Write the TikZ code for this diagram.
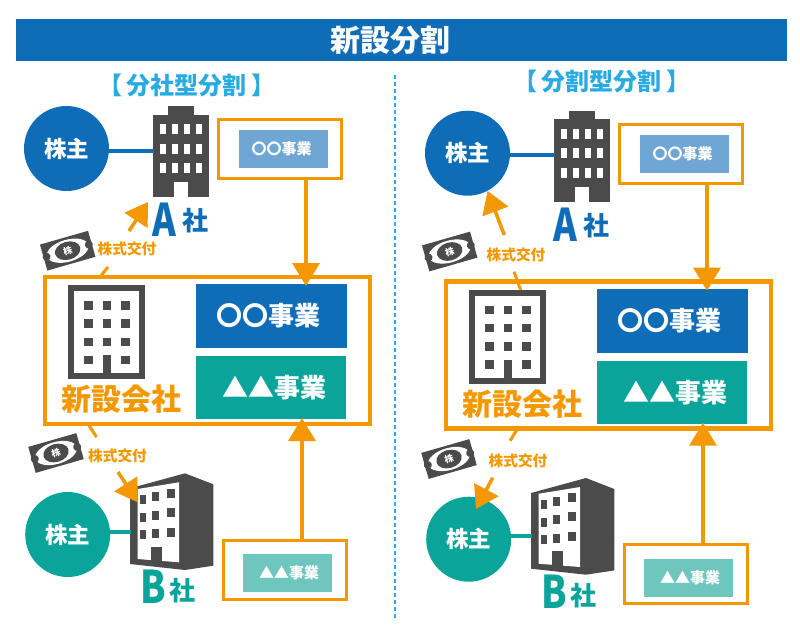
\documentclass[tikz,border=0pt]{standalone}
\usepackage{fontspec}
\setmainfont{Noto Sans CJK JP}
\usepackage{tikz}
\usetikzlibrary{arrows.meta,positioning}
\definecolor{bandblue}{HTML}{0F6DB8}
\definecolor{paleblue}{HTML}{6FA6D4}
\definecolor{teal}{HTML}{0AA49B}
\definecolor{paleteal}{HTML}{6FC6BE}
\definecolor{flow}{HTML}{F39800}
\definecolor{heading}{HTML}{29ABE2}
\definecolor{bldg}{HTML}{4B4B4B}
\newcommand{\fsz}[1]{\fontsize{#1}{#1}\selectfont}
\tikzset{
  lbl/.style={inner sep=0,font=\bfseries\fsz{#1}},
  holder/.style={circle,fill=#1,text=white,minimum size=85pt,inner sep=0,font=\bfseries\fsz{22.5}},
  orgbox/.style={draw=flow,line width=3pt,fill=white,inner sep=0,outer sep=0,minimum width=123pt,minimum height=59pt},
  smallbiz/.style={fill=#1,text=white,inner sep=0,minimum width=89pt,minimum height=38pt,font=\bfseries\fsz{15}},
  bigbiz/.style={fill=#1,text=white,inner sep=0,minimum width=151pt,minimum height=64pt,font=\bfseries\fsz{26}},
  flowline/.style={draw=flow,line width=3.5pt,-{Triangle[length=23pt,width=27pt]}},
  stockline/.style={draw=flow,line width=3.5pt,-{Triangle[length=22pt,width=27pt]}},
  stub/.style={draw=flow,line width=3pt},
  stockcert/.pic={
    \fill[bldg] (-25,-13.5) rectangle (25,13.5);
    \fill[white] (0,0) ellipse [x radius=21.5,y radius=11];
    \fill[bldg] (0,0) ellipse [x radius=13,y radius=9];
    \fill[bldg] (-22,0) ellipse [x radius=4,y radius=4];
    \fill[bldg] (22,0) ellipse [x radius=4,y radius=4];
    \node[transform shape,text=white,inner sep=0,font=\bfseries\fsz{9}] (-kabu) at (0,0) {株};
  },
  merger/.pic={
    % A company
    \node[holder=bandblue] (-holderA) at (66.5,148.5) {株主};
    \node[fill=bldg,inner sep=0,minimum width=55.5pt,minimum height=82.5pt] (-bldgA) at (180.75,155.75) {};
    \draw[bandblue,line width=4pt] ([yshift=-2pt]-holderA.east) -- ++(45,0);
    \fill[bldg] (167.7,106) rectangle (194,115);
    \foreach \x in {160,172,184,196}
      \foreach \y in {124,143.5,163}
        \fill[white] (\x,\y) rectangle +(6,10);
    \fill[white] (174,182) rectangle (188,197.5);
    \node[lbl=45,text=bandblue] (-letterA) at (164.5,220) {\scalebox{.8}[1]{A}};
    \node[lbl=26,text=bandblue] (-shaA) at (195,221) {社};
    \node[orgbox] (-boxA) at (280,149) {};
    \node[smallbiz=paleblue] (-bizA) at (283.5,149) {\hspace{-4pt}〇〇事業};
    % new company
    \node[draw=flow,line width=4.5pt,inner sep=0,outer sep=0,minimum width=325pt,minimum height=147pt] (-newco) at (207.5,350.5) {};
    \draw[bldg,line width=6pt] (71,288) rectangle (142,376);
    \foreach \x in {84,102.5,121}
      \foreach \y in {301,319,337.5,355.5}
        \fill[bldg] (\x,\y) rectangle +(8.5,8.5);
    \fill[bldg] (102.5,355) rectangle (111,376);
    \node[lbl=30,text=flow] (-newname) at (121,399) {新設会社};
    \node[bigbiz=bandblue] (-bizOO) at (271,316) {\hspace{-6pt}〇〇事業};
    \node[bigbiz=teal,minimum width=150pt,minimum height=63pt] (-bizTT) at (271,387.5) {\hspace{6pt}▲▲事業};
    % B company
    \node[holder=teal] (-holderB) at (67.7,534.5) {\raisebox{-2pt}{株主}};
    \fill[bldg] (130,488.3) -- (185,473.3) -- (213.3,484.3) -- (213.3,565.7) -- (185,570) -- (130,564) -- cycle;
    \fill[white] (137.7,489) -- (179,482.3) -- (179,562.3) -- (137.7,559) -- cycle;
    \foreach \x/\w/\yy/\yb/\yc in {140/6/495/513/530,152.3/7/492/510.5/529,166.7/8.3/488.5/507.5/527.5}
      \foreach \y in {\yy,\yb,\yc}
        \fill[bldg] (\x,\y) rectangle +(\w,9);
    \fill[bldg] (150.7,546.7) rectangle (161.7,562);
    \draw[teal,line width=4pt] (110,531.7) -- (131,531.7);
    \node[lbl=45,text=teal] (-letterB) at (153.5,587) {\scalebox{.82}[1]{B}};
    \node[lbl=26,text=teal] (-shaB) at (182,591) {社};
    \node[orgbox] (-boxB) at (284.5,569.5) {};
    \node[smallbiz=paleteal] (-bizB) at (287.5,573) {\hspace{3pt}▲▲事業};
    % transfers
    \coordinate (-tipA) at (306,286);
    \coordinate (-tipB) at (302,418);
    \draw[flowline] (-boxA.south -| -tipA) -- (-tipA);
    \draw[flowline] (-boxB.north -| -tipB) -- (-tipB);
  }
}
\begin{document}
\begin{tikzpicture}[x=1pt,y=-1pt]
\useasboundingbox (0,0) rectangle (800,630);
\node[fill=bandblue,inner sep=0,minimum width=771pt,minimum height=42pt] (band) at (401.5,40) {};
\node[lbl=30,text=white] (bandname) at (390.5,40.5) {新設分割};
\node[lbl=24,text=heading] (headL) at (187,85) {【\hspace{.2em}分社型分割\hspace{.2em}】};
\node[lbl=24,text=heading] (headR) at (602,81) {【\hspace{.2em}分割型分割\hspace{.2em}】};
\coordinate (divtop) at (395,75);
\coordinate (divend) at (395,618);
\draw[heading,line width=1.2pt,dash pattern=on 4pt off 3pt] (divtop) -- (divend);
\pic (L) at (0,0) {merger};
\pic (R) at (401,4.7) {merger};
% left side stock
\pic (certLA) at (67.7,250.7) [rotate=16] {stockcert};
\pic (certLB) at (56,453) [rotate=16] {stockcert};
\node[lbl=14.7,text=flow] (payLA) at (127,248.5) {株式交付};
\node[lbl=14.7,text=flow] (payLB) at (117.5,456) {株式交付};
\coordinate (stubLA) at (108,267);
\coordinate (baseLA) at (100,277);
\coordinate (stubLB) at (96.5,437);
\coordinate (baseLB) at (88,424);
\draw[stub] (baseLA) -- (stubLA);
\draw[stub] (baseLB) -- (stubLB);
\coordinate (fromLA) at (129,231);
\coordinate (toLA) at (148,202);
\coordinate (fromLB) at (118,472);
\coordinate (toLB) at (137.7,502.3);
\draw[stockline] (fromLA) -- (toLA);
\draw[stockline] (fromLB) -- (toLB);
% right side stock
\pic (certRA) at (449.7,251.5) [rotate=16] {stockcert};
\pic (certRB) at (449,459) [rotate=16] {stockcert};
\node[lbl=14.7,text=flow] (payRA) at (516,255) {株式交付};
\node[lbl=14.7,text=flow] (payRB) at (518,461) {株式交付};
\coordinate (stubRA) at (514,271.7);
\coordinate (baseRA) at (520.7,290);
\coordinate (stubRB) at (510,440.7);
\coordinate (baseRB) at (516.7,430);
\draw[stub] (baseRA) -- (stubRA);
\draw[stub] (baseRB) -- (stubRB);
\coordinate (fromRA) at (504.3,235);
\coordinate (fromRB) at (492.7,477.7);
\coordinate (toRB) at (476,509);
\draw[stockline] (fromRA) -- (R-holderA.-62);
\draw[stockline] (fromRB) -- (toRB);
\end{tikzpicture}
\end{document}
